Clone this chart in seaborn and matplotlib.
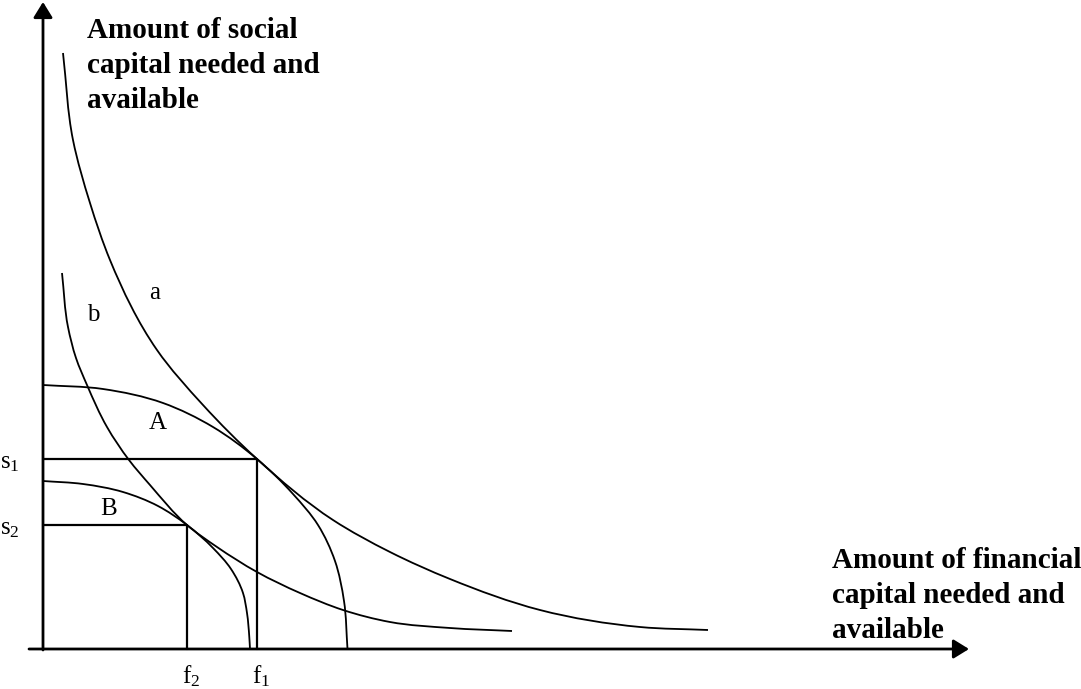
import numpy as np
import pandas as pd
import seaborn as sns
import matplotlib.pyplot as plt
from matplotlib.path import Path
from matplotlib.patches import PathPatch

# curves (origin = where the two axes meet)
a_x = [20, 30, 47, 67, 114, 160, 214, 290, 347, 407, 497, 597, 665]
a_y = [596, 509, 446, 389, 299, 244, 190, 129, 97, 70, 39, 22, 19]

b_x = [19, 25, 33, 44, 64, 86, 107, 144, 174, 214, 257, 300, 347, 407, 469]
b_y = [376, 322, 291, 264, 222, 189, 164, 124, 102, 77, 56, 39, 27, 21, 18]

A_x = [0, 60, 120, 170, 214, 250, 275, 292, 301, 304.5]
A_y = [264, 260, 246, 222, 190, 155, 124, 88, 48, 0]

B_x = [0, 40, 80, 115, 144, 170, 188, 200, 204, 206.3, 207]
B_y = [168, 165, 157, 143, 124, 101, 80, 56, 36, 12, 0]

# tangency points
f_vals = [214, 144]
s_vals = [190, 124]
f_labels = [r"f$_1$", r"f$_2$"]
s_labels = [r"s$_1$", r"s$_2$"]

curve_names = ["a", "b", "A", "B"]
curve_labels = {"a": (111.5, 350), "b": (50.3, 328), "A": (114.8, 220), "B": (65.8, 134)}

y_title = "Amount of social\ncapital needed and\navailable"
x_title = "Amount of financial\ncapital needed and\navailable"


def smooth_path(xs, ys):
    # cubic bezier through the read points, tangents from the neighbours
    p = np.column_stack([xs, ys]).astype(float)
    seg = np.diff(p, axis=0)
    d = np.hypot(seg[:, 0], seg[:, 1])
    u = seg / d[:, None]
    t = np.empty_like(p)
    t[0], t[-1] = u[0], u[-1]
    for i in range(1, len(p) - 1):
        t[i] = (u[i - 1] * d[i] + u[i] * d[i - 1]) / (d[i - 1] + d[i])
    verts = [p[0]]
    codes = [Path.MOVETO]
    for i in range(len(d)):
        verts += [p[i] + t[i] * d[i] / 3, p[i + 1] - t[i + 1] * d[i] / 3, p[i + 1]]
        codes += [Path.CURVE4] * 3
    return Path(verts, codes)


sns.set_style("white")
plt.rcParams["font.family"] = ["Liberation Serif", "DejaVu Serif"]
plt.rcParams["text.color"] = "black"
plt.rcParams["mathtext.fontset"] = "custom"
plt.rcParams["mathtext.rm"] = "Liberation Serif"
plt.rcParams["mathtext.it"] = "Liberation Serif"

fig = plt.figure(figsize=(10.81, 6.89), dpi=100)
ax = fig.add_axes([0, 0, 1, 1])
ax.set_xlim(-43, 1038)
ax.set_ylim(-40, 649)
ax.axis("off")

# the four curves
for xs, ys in [(a_x, a_y), (b_x, b_y), (A_x, A_y), (B_x, B_y)]:
    ax.add_patch(PathPatch(smooth_path(xs, ys), fill=False, edgecolor="black",
                           linewidth=1.3, capstyle="butt"))

# drop lines from the tangency points to the axes
drops = pd.concat([
    pd.DataFrame({"x": [0, f, f], "y": [s, s, 0], "pt": i})
    for i, (f, s) in enumerate(zip(f_vals, s_vals))
], ignore_index=True)
sns.lineplot(data=drops, x="x", y="y", units="pt", estimator=None, sort=False,
             color="black", linewidth=1.6, ax=ax, legend=False)

# axes with arrow heads
arrow = dict(arrowstyle="-|>,head_length=0.47,head_width=0.29", color="black",
             lw=2.0, mutation_scale=20, shrinkA=0, shrinkB=0)
ax.annotate("", xy=(0, 647), xytext=(0, -1), arrowprops=arrow)
ax.annotate("", xy=(926, 0), xytext=(-14, 0), arrowprops=arrow)

# labels
for name in curve_names:
    x, y = curve_labels[name]
    ax.text(x, y, name, fontsize=18, ha="center", va="baseline")

for f, lab in zip(f_vals, f_labels):
    ax.text(f - 5.5, -34, lab, fontsize=18, ha="left", va="baseline")
for s, lab in zip(s_vals, s_labels):
    ax.text(-43, s - 9, lab, fontsize=18, ha="left", va="baseline")

ax.text(44, 632, y_title, fontsize=21, fontweight="bold", ha="left", va="top",
        linespacing=1.37)
ax.text(788.7, 102, x_title, fontsize=21, fontweight="bold", ha="left", va="top",
        linespacing=1.37)

fig.savefig("out.png", dpi=100)
